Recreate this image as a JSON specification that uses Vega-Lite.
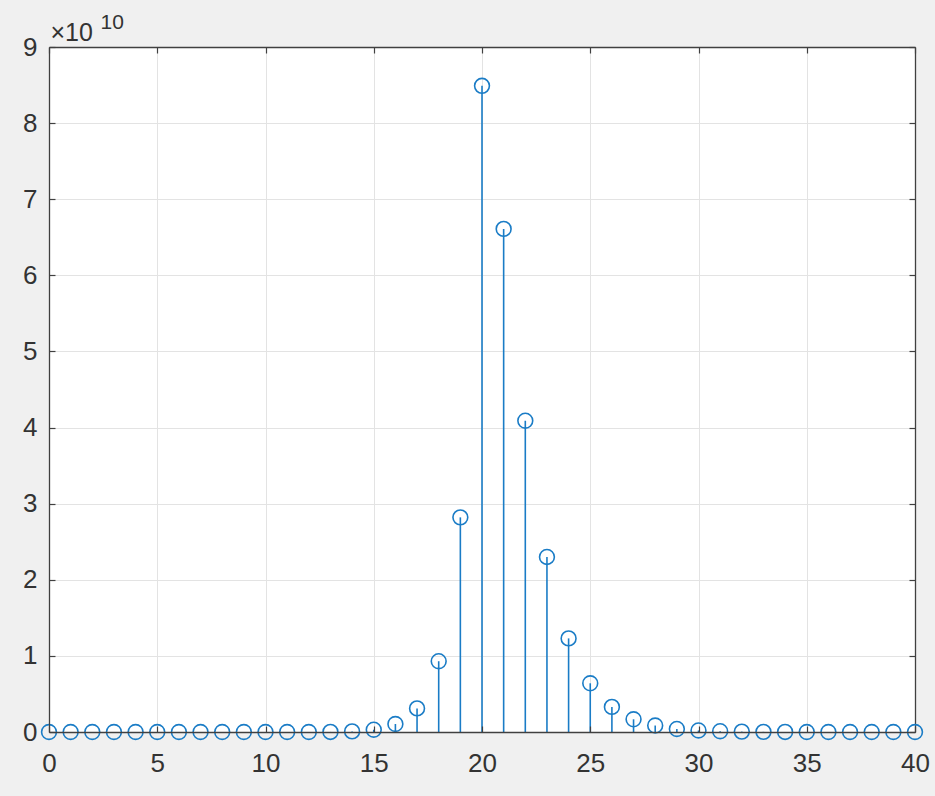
{
  "$schema": "https://vega.github.io/schema/vega-lite/v6.json",
  "width": 866,
  "height": 685,
  "padding": {"left": 49, "top": 47, "right": 20, "bottom": 64},
  "autosize": {"type": "none"},
  "background": "#f0f0f0",
  "config": {
    "view": {"fill": "white", "stroke": null},
    "axis": {
      "labelFont": "Liberation Sans",
      "titleFont": "Liberation Sans",
      "labelFontSize": 26,
      "labelColor": "#333333",
      "titleColor": "#333333",
      "titleFontWeight": "normal",
      "domainColor": "#404040",
      "domainWidth": 1.3,
      "tickColor": "#404040",
      "tickWidth": 1.2,
      "tickSize": -6,
      "gridColor": "#e3e3e3",
      "gridWidth": 1
    }
  },
  "data": {
    "values": [
      {"n": 0, "v": 0}, {"n": 1, "v": 0}, {"n": 2, "v": 0}, {"n": 3, "v": 0},
      {"n": 4, "v": 0}, {"n": 5, "v": 0}, {"n": 6, "v": 0}, {"n": 7, "v": 0},
      {"n": 8, "v": 0}, {"n": 9, "v": 0}, {"n": 10, "v": 0}, {"n": 11, "v": 0},
      {"n": 12, "v": 0}, {"n": 13, "v": 10000000}, {"n": 14, "v": 80000000},
      {"n": 15, "v": 300000000}, {"n": 16, "v": 1050000000}, {"n": 17, "v": 3100000000},
      {"n": 18, "v": 9300000000}, {"n": 19, "v": 28200000000}, {"n": 20, "v": 84900000000},
      {"n": 21, "v": 66100000000}, {"n": 22, "v": 40900000000}, {"n": 23, "v": 23000000000},
      {"n": 24, "v": 12300000000}, {"n": 25, "v": 6400000000}, {"n": 26, "v": 3300000000},
      {"n": 27, "v": 1670000000}, {"n": 28, "v": 850000000}, {"n": 29, "v": 400000000},
      {"n": 30, "v": 200000000}, {"n": 31, "v": 100000000}, {"n": 32, "v": 50000000},
      {"n": 33, "v": 20000000}, {"n": 34, "v": 10000000}, {"n": 35, "v": 0},
      {"n": 36, "v": 0}, {"n": 37, "v": 0}, {"n": 38, "v": 0}, {"n": 39, "v": 0},
      {"n": 40, "v": 0}
    ]
  },
  "layer": [
    {
      "mark": {"type": "rule", "color": "#1a7cc6", "strokeWidth": 1.6},
      "encoding": {
        "x": {
          "field": "n", "type": "quantitative",
          "scale": {"domain": [0, 40], "nice": false, "zero": false},
          "axis": {
            "orient": "top", "values": [0, 5, 10, 15, 20, 25, 30, 35, 40],
            "labels": false, "domain": true, "ticks": true, "grid": true, "title": null, "zindex": 0
          }
        },
        "y": {
          "field": "v", "type": "quantitative",
          "scale": {"domain": [0, 90000000000], "nice": false},
          "axis": {
            "orient": "right", "values": [0, 10000000000, 20000000000, 30000000000, 40000000000, 50000000000, 60000000000, 70000000000, 80000000000, 90000000000],
            "labels": false, "domain": true, "ticks": true, "grid": true, "zindex": 0,
            "title": "10", "titleAngle": 0, "titleAlign": "left", "titleBaseline": "alphabetic",
            "titleFontSize": 21, "titleX": -815, "titleY": -19
          }
        },
        "y2": {"datum": 0}
      }
    },
    {
      "mark": {"type": "point", "shape": "circle", "filled": false, "color": "#1a7cc6", "size": 220, "strokeWidth": 1.6, "opacity": 1},
      "encoding": {
        "x": {
          "field": "n", "type": "quantitative",
          "scale": {"domain": [0, 40], "nice": false, "zero": false},
          "axis": {
            "orient": "bottom", "values": [0, 5, 10, 15, 20, 25, 30, 35, 40],
            "grid": false, "title": null, "labelPadding": 24, "zindex": 1, "labelFlush": false
          }
        },
        "y": {
          "field": "v", "type": "quantitative",
          "scale": {"domain": [0, 90000000000], "nice": false},
          "axis": {
            "orient": "left", "values": [0, 10000000000, 20000000000, 30000000000, 40000000000, 50000000000, 60000000000, 70000000000, 80000000000, 90000000000],
            "labelExpr": "format(datum.value / 10000000000, 'd')",
            "grid": false, "labelPadding": 18, "zindex": 1,
            "title": "×10", "titleAngle": 0, "titleAlign": "left", "titleBaseline": "alphabetic",
            "titleFontSize": 25, "titleX": 1, "titleY": -7
          }
        }
      }
    }
  ]
}
